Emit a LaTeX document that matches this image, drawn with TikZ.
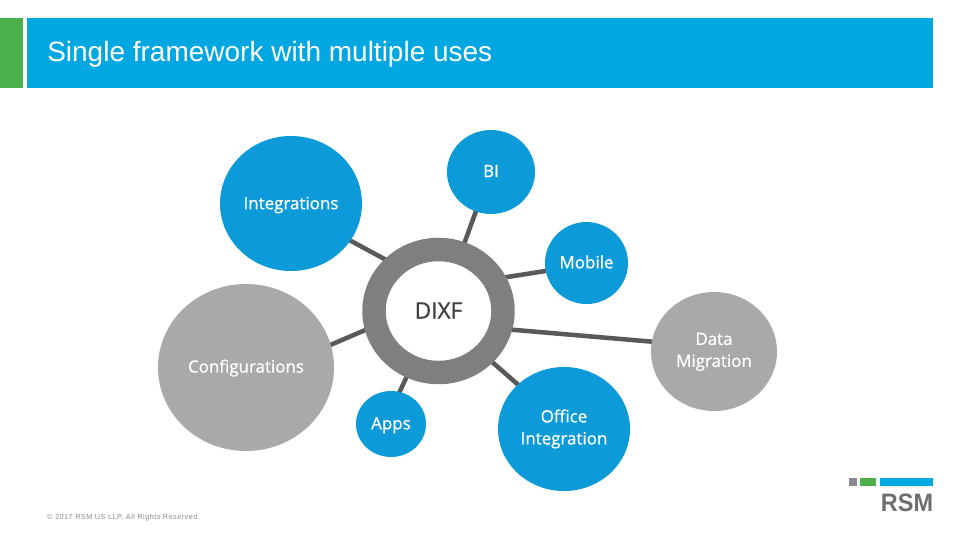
\documentclass[tikz,border=0pt]{standalone}
\usepackage{fontspec}
\usetikzlibrary{shapes.geometric,backgrounds}
\setmainfont{Liberation Sans}
\newfontfamily\labelfont[FakeBold=0.8]{Open Sans}
\definecolor{headblue}{HTML}{00A7E1}
\definecolor{bubbleblue}{HTML}{0C9AD9}
\definecolor{rsmgreen}{HTML}{4DB14B}
\definecolor{rsmgrey}{HTML}{ABA8A8}
\definecolor{ringgrey}{HTML}{7F7F7F}
\definecolor{linkgrey}{HTML}{595959}
\definecolor{inkgrey}{HTML}{404040}
\definecolor{logogrey}{HTML}{888B8D}
\definecolor{logoink}{HTML}{6D6E71}
\newcommand\lbl[2]{\raisebox{#1}[0pt][0pt]{\begin{tabular}{@{}c@{}}#2\end{tabular}}}
\tikzset{
  x=0.75pt,y=-0.75pt,
  bubble/.style n args={3}{ellipse,draw=none,fill=#1,inner sep=0pt,outer sep=0pt,
    minimum width=#2*0.75pt,minimum height=#3*0.75pt,
    font=\labelfont\fontsize{12.7}{16.5}\selectfont,text=white},
  hubring/.style={ellipse,draw=ringgrey,line width=17.6pt,fill=white,inner sep=0pt,outer sep=0pt,
    minimum width=129*0.75pt,minimum height=123*0.75pt,
    font=\labelfont\fontsize{17}{20}\selectfont,text=inkgrey},
  link/.style={draw=linkgrey,line width=3.4pt,shorten >=-1.5pt},
}
\begin{document}
\begin{tikzpicture}
\useasboundingbox (0,0) rectangle (960,540);
\fill[rsmgreen] (0,18) rectangle (23,88);
\fill[headblue] (27,18) rectangle (933,88);
\node[anchor=west,text=white,inner sep=0pt,font=\fontsize{21}{24}\selectfont] (title) at (47,54) {Single framework with multiple uses};
\node[hubring] (hub) at (438.5,311) {\lbl{-6pt}{DIXF}};
\node[bubble={bubbleblue}{142}{135}] (ni) at (291,203.5) {\lbl{-4pt}{Integrations}};
\node[bubble={bubbleblue}{88}{84}] (nb) at (491,172) {\lbl{-3.5pt}{BI}};
\node[bubble={bubbleblue}{83}{82}] (nm) at (586.5,263) {\lbl{-3.7pt}{Mobile}};
\node[bubble={rsmgrey}{126}{119}] (nd) at (714,351.5) {\lbl{-3pt}{Data\\Migration}};
\node[bubble={bubbleblue}{132}{124}] (no) at (564,429) {\lbl{-3pt}{Office\\Integration}};
\node[bubble={bubbleblue}{70}{66}] (na) at (391,424) {\lbl{-3.7pt}{Apps}};
\node[bubble={rsmgrey}{176}{167}] (ng) at (246,367.5) {\lbl{-3.5pt}{Configurations}};
\begin{scope}[on background layer]
\draw[link] (hub.133.4) -- (ni.328.5);
\draw[link] (hub.69.5) -- (nb.249);
\draw[link] (hub.30) -- (nm.191.9);
\draw[link] (hub.-16) -- (nd.171.4);
\draw[link] (hub.-44.3) -- (no.136.4);
\draw[link] (hub.244) -- (na.75);
\draw[link] (hub.193.5) -- (ng.15.5);
\end{scope}
\node[anchor=west,inner sep=0pt,text=logogrey,font=\fontsize{5.5}{7}\selectfont] (foot) at (47,517.5) {\addfontfeature{LetterSpace=6}© 2017 RSM US LLP. All Rights Reserved.};
\fill[logogrey] (849,478) rectangle (856.5,486);
\fill[rsmgreen] (859.5,478) rectangle (876,486);
\fill[headblue] (880,478) rectangle (933,486);
\node[anchor=center,inner sep=0pt,text=logoink,xscale=0.93,font=\bfseries\fontsize{18.9}{22}\selectfont] (logo) at (907,503) {RSM};
\end{tikzpicture}
\end{document}
